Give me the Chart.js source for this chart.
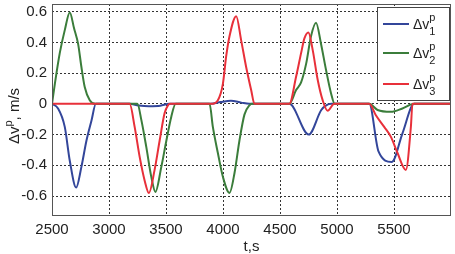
<!DOCTYPE html>
<html>
<head>
<meta charset="utf-8">
<script src="https://cdn.jsdelivr.net/npm/chart.js@4.4.1/dist/chart.umd.min.js"></script>
<style>
    html, body { margin: 0; padding: 0; background: #fff; }
    #wrap { width: 455px; height: 254px; position: relative; }
</style>
</head>
<body>
<div id="wrap"><canvas id="chart"></canvas></div>
<script>
// Dane (t w sekundach, dv w m/s)
const xTicks = [2500, 3000, 3500, 4000, 4500, 5000, 5500];
const yTicks = [-0.6, -0.4, -0.2, 0, 0.2, 0.4, 0.6];

const blueT = [2500, 2553, 2612, 2656, 2712, 2758, 2802, 2846, 2885, 3180, 3260, 3350, 3450, 3530,
    3890, 3980, 4070, 4160, 4230, 4290, 4582, 4752, 4862, 4905, 4950, 5283, 5364, 5481, 5575, 5677, 6000];
const blueV = [0, -0.03, -0.15, -0.37, -0.545, -0.41, -0.24, -0.11, 0, 0, -0.01, -0.015, -0.012, 0,
    0, 0.012, 0.02, 0.008, 0, 0, 0, -0.2, -0.04, -0.01, 0, 0, -0.31, -0.378, -0.19, 0, 0];

const greenT = [2500, 2525, 2568, 2612, 2656, 2694, 2729, 2758, 2787, 2831, 2880,
    3249, 3284, 3327, 3371, 3407, 3459, 3503, 3546, 3585,
    3882, 3911, 3955, 3999, 4057, 4101, 4144, 4188, 4232, 4255,
    4582, 4641, 4685, 4729, 4772, 4816, 4860, 4904, 4948, 4980,
    5283, 5356, 5473, 5574, 5677, 6000];
const greenV = [0, 0.13, 0.33, 0.48, 0.595, 0.49, 0.39, 0.24, 0.11, 0.024, 0,
    0, -0.106, -0.28, -0.475, -0.573, -0.41, -0.24, -0.085, 0,
    0, -0.15, -0.32, -0.475, -0.58, -0.45, -0.24, -0.07, -0.01, 0,
    0, 0.09, 0.14, 0.26, 0.44, 0.528, 0.39, 0.22, 0.068, 0,
    0, -0.04, -0.052, -0.03, 0, 0];

const redT = [2500, 3181, 3225, 3269, 3313, 3350, 3400, 3444, 3488, 3517, 3535,
    3897, 3955, 3999, 4028, 4057, 4116, 4159, 4203, 4247, 4276,
    4582, 4641, 4685, 4714, 4749, 4787, 4831, 4874, 4918, 4976,
    5283, 5341, 5414, 5473, 5531, 5604, 5648, 5662, 6000];
const redV = [0, 0, -0.15, -0.345, -0.5, -0.58, -0.43, -0.24, -0.06, -0.01, 0,
    0, 0.024, 0.13, 0.31, 0.44, 0.571, 0.415, 0.24, 0.09, 0,
    0, 0.176, 0.33, 0.426, 0.465, 0.35, 0.155, 0.024, -0.045, 0,
    0, -0.074, -0.15, -0.215, -0.32, -0.43, -0.15, 0, 0];

const seriesNames = ['1', '2', '3'];
const colors = ['#33469a', '#3b7d3b', '#e8303a'];

const FONT = '"Liberation Sans", Arial, sans-serif';

function toPoints(ts, vs) {
    return ts.map((t, i) => ({ x: t, y: vs[i] }));
}

function makeSet(ts, vs, color, order) {
    return {
        data: toPoints(ts, vs),
        borderColor: color,
        borderWidth: 2,
        pointRadius: 0,
        cubicInterpolationMode: 'monotone',
        fill: false,
        order: order
    };
}

// ==================== PLUGINY ====================

// ramka wokol obszaru wykresu
const frame = {
    id: 'frame',
    afterDatasetsDraw(chart) {
        const { ctx, chartArea: a } = chart;
        ctx.save();
        ctx.strokeStyle = '#555';
        ctx.lineWidth = 1;
        ctx.strokeRect(a.left + 0.5, a.top + 0.5, a.right - a.left - 1, a.bottom - a.top - 1);
        ctx.restore();
    }
};

// legenda z indeksami gornymi i dolnymi
const legendBox = {
    id: 'legendBox',
    afterDraw(chart) {
        const ctx = chart.ctx;
        const a = chart.chartArea;
        const x0 = a.right - 74, y0 = a.top + 3, w = 72, h = 93;
        ctx.save();
        ctx.fillStyle = '#fff';
        ctx.fillRect(x0, y0, w, h);
        ctx.strokeStyle = '#444';
        ctx.lineWidth = 1;
        ctx.strokeRect(x0 + 0.5, y0 + 0.5, w, h);
        const rows = [y0 + 17, y0 + 46, y0 + 77];
        rows.forEach((y, i) => {
            ctx.strokeStyle = colors[i];
            ctx.lineWidth = 2;
            ctx.beginPath();
            ctx.moveTo(x0 + 6, y);
            ctx.lineTo(x0 + 32, y);
            ctx.stroke();
            ctx.fillStyle = '#222';
            ctx.textBaseline = 'alphabetic';
            ctx.font = '14px ' + FONT;
            ctx.fillText('\u0394v', x0 + 36, y + 5);
            const wd = ctx.measureText('\u0394v').width;
            ctx.font = '11px ' + FONT;
            ctx.fillText('p', x0 + 36 + wd, y - 3);
            ctx.fillText(seriesNames[i], x0 + 36 + wd, y + 11);
        });
        ctx.restore();
    }
};

// tytul osi Y z indeksem gornym
const yTitle = {
    id: 'yTitle',
    afterDraw(chart) {
        const ctx = chart.ctx;
        ctx.save();
        ctx.translate(15, 116);
        ctx.rotate(-Math.PI / 2);
        ctx.fillStyle = '#222';
        ctx.textBaseline = 'middle';
        ctx.font = '15px ' + FONT;
        const p1 = '\u0394v', p3 = ', m/s';
        const w1 = ctx.measureText(p1).width;
        const w3 = ctx.measureText(p3).width;
        ctx.font = '11px ' + FONT;
        const w2 = ctx.measureText('p').width;
        let x = -(w1 + w2 + w3) / 2;
        ctx.font = '15px ' + FONT;
        ctx.fillText(p1, x, 0);
        x += w1;
        ctx.font = '11px ' + FONT;
        ctx.fillText('p', x, -6);
        x += w2;
        ctx.font = '15px ' + FONT;
        ctx.fillText(p3, x, 0);
        ctx.restore();
    }
};

// ==================== WYKRES ====================

const ctx = document.getElementById('chart').getContext('2d');

new Chart(ctx, {
    type: 'line',
    data: {
        datasets: [
            makeSet(blueT, blueV, colors[0], 2),
            makeSet(greenT, greenV, colors[1], 1),
            makeSet(redT, redV, colors[2], 0)
        ]
    },
    options: {
        responsive: true,
        maintainAspectRatio: false,
        animation: false,
        layout: { padding: { top: 4, right: 4, left: 0, bottom: 0 } },
        plugins: {
            legend: { display: false },
            tooltip: { enabled: false }
        },
        scales: {
            x: {
                type: 'linear',
                min: 2500,
                max: 6000,
                afterBuildTicks: (scale) => { scale.ticks = xTicks.map(v => ({ value: v })); },
                afterFit: (scale) => {
                    scale.height = 38;
                    scale.paddingLeft = 0;
                    scale.paddingRight = 0;
                },
                grid: { color: '#333', lineWidth: 1, drawTicks: false },
                border: { display: false, dash: [2, 2] },
                ticks: {
                    color: '#222',
                    padding: 5,
                    maxRotation: 0,
                    font: { family: FONT, size: 15 },
                    callback: (v) => String(v)
                },
                title: {
                    display: true,
                    text: 't,s',
                    color: '#222',
                    padding: { top: 0, bottom: 0 },
                    font: { family: FONT, size: 15, lineHeight: 1 }
                }
            },
            y: {
                min: -0.73,
                max: 0.65,
                afterBuildTicks: (scale) => { scale.ticks = yTicks.map(v => ({ value: v })); },
                afterFit: (scale) => {
                    scale.width = 52;
                    scale.paddingTop = 0;
                    scale.paddingBottom = 0;
                },
                grid: { color: '#333', lineWidth: 1, drawTicks: false },
                border: { display: false, dash: [2, 2] },
                ticks: {
                    color: '#222',
                    padding: 5,
                    font: { family: FONT, size: 15 },
                    callback: (v) => String(Math.round(v * 10) / 10)
                }
            }
        }
    },
    plugins: [frame, legendBox, yTitle]
});
</script>
</body>
</html>
